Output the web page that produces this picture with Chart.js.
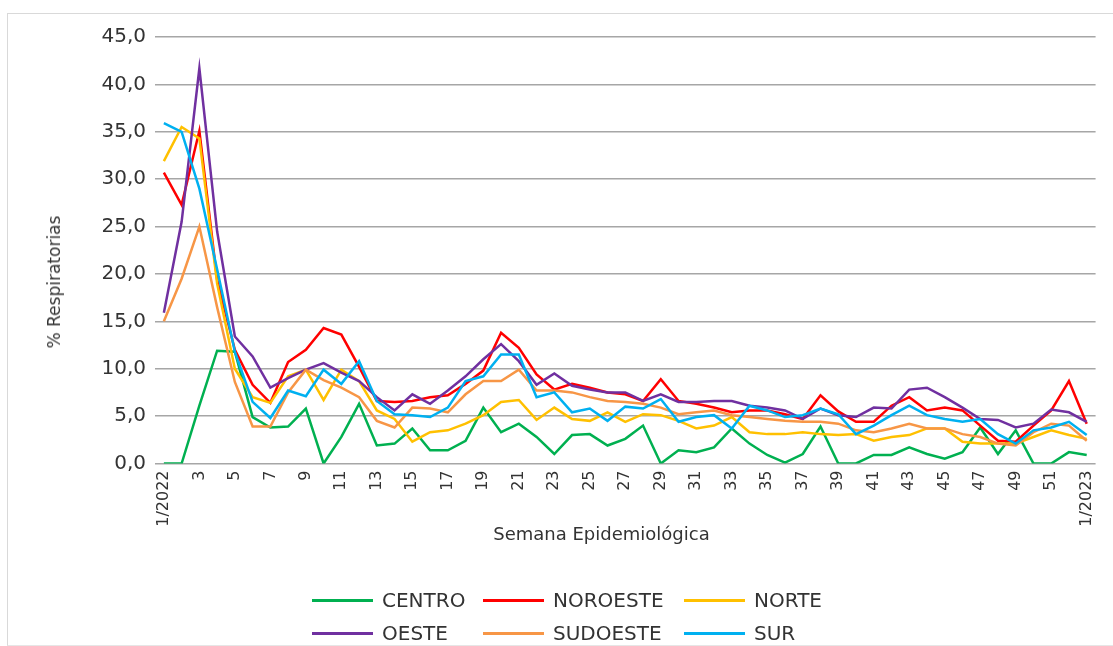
<!DOCTYPE html>
<html>
<head>
<meta charset="utf-8">
<script src="https://cdn.jsdelivr.net/npm/chart.js@4/dist/chart.umd.min.js"></script>
<style>
  html, body { margin: 0; padding: 0; background: #fff; width: 1113px; height: 646px; overflow: hidden; }
  #frame { position: absolute; left: 7px; top: 13px; width: 1120px; height: 631px;
           border-left: 1px solid #d9d9d9; border-top: 1px solid #d9d9d9; border-bottom: 1px solid #e6e6e6; }
  #c { position: absolute; left: 0; top: 0; }
  .txt { position: absolute; font-family: 'DejaVu Sans', sans-serif; color: #333; white-space: nowrap; }
  #ytitle { font-size: 17px; left: 54px; top: 282px; transform: translate(-50%, -50%) rotate(-90deg); }
  #xtitle { font-size: 18px; left: 601.5px; top: 533px; transform: translate(-50%, -50%); }
  .leg { position: absolute; height: 24px; }
  .leg .sw { position: absolute; left: 0; top: 10.5px; width: 61px; height: 3px; }
  .leg .lb { position: absolute; left: 70px; top: 0; font-size: 20px; line-height: 24px; font-family: 'DejaVu Sans', sans-serif; color: #333; white-space: nowrap; }
</style>
</head>
<body>
<div id="frame"></div>
<canvas id="c" width="1113" height="646"></canvas>
<div id="ytitle" class="txt">% Respiratorias</div>
<div id="xtitle" class="txt">Semana Epidemiológica</div>
<div id="legend"></div>
<script>
// ---- Data ----
const weeks = ['1/2022','2','3','4','5','6','7','8','9','10','11','12','13','14','15','16','17','18','19','20',
  '21','22','23','24','25','26','27','28','29','30','31','32','33','34','35','36','37','38','39','40',
  '41','42','43','44','45','46','47','48','49','50','51','52','1/2023'];

const seriesNames = ['CENTRO', 'NOROESTE', 'NORTE', 'OESTE', 'SUDOESTE', 'SUR'];

const centro = [0, 0, 6.1, 11.9, 11.8, 4.9, 3.8, 3.9, 5.8, 0,
  2.8, 6.3, 1.9, 2.1, 3.7, 1.4, 1.4, 2.4, 5.9, 3.3, 4.2, 2.8,
  1.0, 3.0, 3.1, 1.9, 2.6, 4.0, 0, 1.4, 1.2, 1.7, 3.7, 2.1, 0.9, 0.1, 1.0, 3.9, 0,
  0, 0.9, 0.9, 1.7, 1.0, 0.5, 1.2, 3.8, 1.0, 3.5, 0, 0, 1.2, 0.9];

const noroeste = [30.7, 27.3, 35.1, 19.4, 12.0, 8.3, 6.4, 10.7, 12.0, 14.3,
  13.6, 10.2, 6.6, 6.5, 6.6, 7.0, 7.2, 8.4, 9.8, 13.8, 12.2, 9.4,
  7.8, 8.4, 8.0, 7.5, 7.3, 6.6, 8.9, 6.6, 6.3, 5.9, 5.4, 5.6, 5.6, 5.2, 4.7, 7.2, 5.5,
  4.4, 4.4, 6.1, 7.0, 5.6, 5.9, 5.6, 4.0, 2.4, 2.3, 4.0, 5.6, 8.7, 4.2];

const norte = [31.9, 35.5, 34.3, 19.0, 10.0, 7.0, 6.4, 9.2, 9.9, 6.7,
  9.9, 8.7, 5.6, 4.7, 2.3, 3.3, 3.5, 4.2, 5.1, 6.5, 6.7, 4.6,
  5.9, 4.7, 4.5, 5.4, 4.4, 5.2, 5.1, 4.5, 3.7, 4.0, 4.9, 3.3, 3.1, 3.1, 3.3, 3.1, 3.0,
  3.1, 2.4, 2.8, 3.0, 3.7, 3.7, 2.3, 2.1, 2.1, 2.1, 2.8, 3.5, 3.0, 2.6];

const oeste = [15.9, 25.5, 41.7, 24.5, 13.4, 11.3, 8.0, 9.0, 9.9, 10.6,
  9.6, 8.7, 7.0, 5.6, 7.3, 6.3, 7.7, 9.2, 11.0, 12.6, 10.8, 8.3,
  9.5, 8.2, 7.8, 7.5, 7.5, 6.6, 7.3, 6.5, 6.5, 6.6, 6.6, 6.1, 5.9, 5.6, 4.7, 5.8, 5.1,
  4.9, 5.9, 5.8, 7.8, 8.0, 7.0, 5.9, 4.7, 4.6, 3.8, 4.2, 5.7, 5.4, 4.4];

const sudoeste = [15.0, 19.5, 25.0, 16.5, 8.6, 3.9, 3.9, 7.5, 9.9, 8.8,
  8.0, 7.0, 4.5, 3.8, 5.9, 5.8, 5.4, 7.3, 8.7, 8.7, 9.9, 7.7,
  7.7, 7.5, 7.0, 6.6, 6.5, 6.3, 5.9, 5.2, 5.4, 5.6, 5.1, 4.9, 4.7, 4.5, 4.4, 4.4, 4.2,
  3.5, 3.3, 3.7, 4.2, 3.7, 3.7, 3.1, 2.8, 2.1, 1.9, 3.3, 4.2, 4.0, 2.4];

const sur = [35.9, 35.0, 29.0, 20.5, 11.8, 6.5, 4.8, 7.7, 7.1, 9.9,
  8.4, 10.8, 6.6, 5.2, 5.1, 4.9, 5.9, 8.7, 9.2, 11.5, 11.5, 7.0,
  7.5, 5.4, 5.8, 4.5, 6.0, 5.8, 6.8, 4.4, 4.9, 5.1, 3.7, 6.1, 5.6, 4.9, 5.1, 5.8, 5.2,
  3.1, 4.0, 5.1, 6.1, 5.1, 4.7, 4.4, 4.7, 3.1, 2.1, 3.5, 3.8, 4.4, 3.0];

const yTickValues = [0, 5, 10, 15, 20, 25, 30, 35, 40, 45];

// ---- Styles ----
const seriesColors = ['#00b050', '#ff0000', '#ffc000', '#7030a0', '#f79646', '#00b0f0'];
const seriesValues = [centro, noroeste, norte, oeste, sudoeste, sur];

const datasets = seriesNames.map((name, i) => ({
  label: name,
  data: seriesValues[i],
  borderColor: seriesColors[i],
  backgroundColor: seriesColors[i],
  borderWidth: 2.5,
  pointRadius: 0,
  tension: 0,
  fill: false,
  order: seriesNames.length - i
}));

new Chart(document.getElementById('c'), {
  type: 'line',
  data: { labels: weeks, datasets },
  options: {
    responsive: false,
    animation: false,
    layout: { padding: { left: 0, top: 37, right: 9, bottom: 0 } },
    plugins: { legend: { display: false }, tooltip: { enabled: false } },
    scales: {
      x: {
        type: 'category',
        offset: true,
        grid: { display: false, drawTicks: false },
        border: { display: false },
        ticks: {
          autoSkip: false, minRotation: 90, maxRotation: 90, padding: 7,
          color: '#333', font: { family: 'DejaVu Sans', size: 16 },
          callback: function (v, i) { return i % 2 === 0 ? this.getLabelForValue(v) : ''; }
        },
        afterFit: s => { s.height = 182.5; }
      },
      y: {
        min: yTickValues[0], max: yTickValues[yTickValues.length - 1],
        afterBuildTicks: s => { s.ticks = yTickValues.map(v => ({ value: v })); },
        ticks: {
          padding: 9, color: '#333', font: { family: 'DejaVu Sans', size: 20 },
          callback: v => Number(v).toFixed(1).replace('.', ',')
        },
        grid: { color: '#a6a6a6', lineWidth: 1.5, drawTicks: false },
        border: { display: false },
        afterFit: s => { s.width = 155; }
      }
    }
  }
});

// ---- Legend (HTML) ----
const legendCols = [312, 483, 684];
const legendRows = [600, 633];
const legend = document.getElementById('legend');
seriesNames.forEach((name, i) => {
  const item = document.createElement('div');
  item.className = 'leg';
  item.style.left = legendCols[i % 3] + 'px';
  item.style.top = (legendRows[Math.floor(i / 3)] - 12) + 'px';
  const sw = document.createElement('div');
  sw.className = 'sw';
  sw.style.background = seriesColors[i];
  const lb = document.createElement('div');
  lb.className = 'lb';
  lb.textContent = name;
  item.appendChild(sw);
  item.appendChild(lb);
  legend.appendChild(item);
});
</script>
</body>
</html>
